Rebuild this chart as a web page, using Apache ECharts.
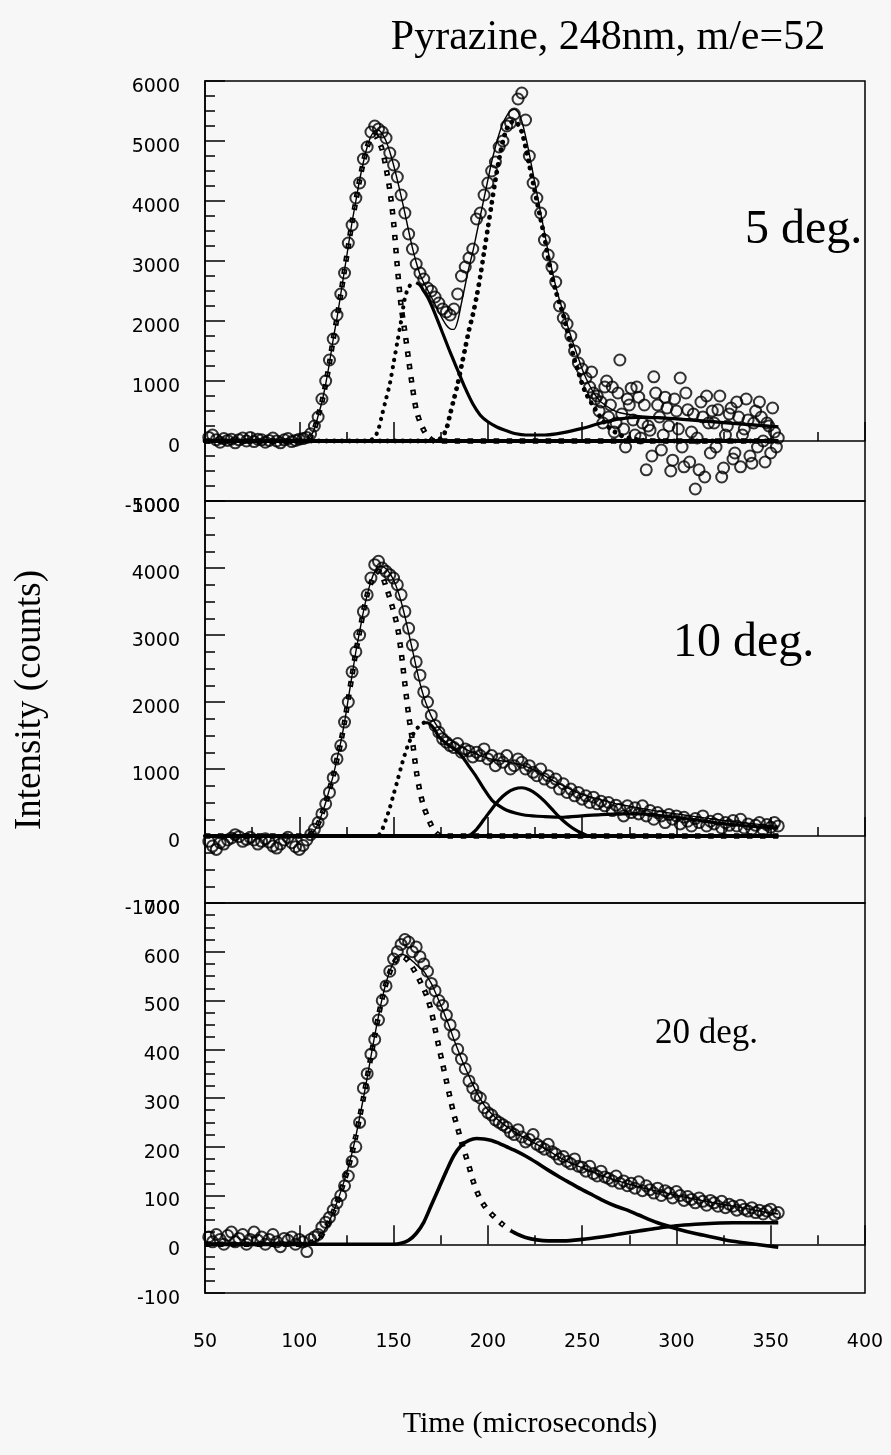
<!DOCTYPE html>
<html>
<head>
<meta charset="utf-8">
<script src="https://cdn.jsdelivr.net/npm/echarts@6/dist/echarts.min.js"></script>
<style>
html,body{margin:0;padding:0;background:#f7f7f7;}
#chart{width:891px;height:1455px;}
</style>
</head>
<body>
<div id="chart"></div>
<script>
// ---------- DATA ----------
const T = [52,54,56,58,60,62,64,66,68,70,72,74,76,78,80,82,84,86,88,90,92,94,96,98,100,102,104,106,
108,110,112,114,116,118,120,122,124,126,128,130,132,134,136,138,140,142,144,146,148,150,152,154,156,158,160,162,164,166,168,170,
172,174,176,178,180,182,184,186,188,190,192,194,196,198,200,202,204,206,208,210,212,214,216,218,220,222,224,226,228,230,
232,234,236,238,240,242,244,246,248,250,252,254,256,258,260,262,264,266,268,270,272,274,276,278,280,282,284,286,288,290,
292,294,296,298,300,302,304,306,308,310,312,314,316,318,320,322,324,326,328,330,332,334,336,338,340,342,344,346,348,350,352,354];

const p1Data = [60,100,20,-20,40,10,30,-30,20,50, 0,60,-10,30,20,-20,10,50,0,-30, 20,40,-10,10,30,40,60,120,
250,400,700,1000,1350,1700,2100,2450,2800,3300, 3600,4050,4300,4700,4900,5150,5250,5200,5150,5050,
4800,4600,4400,4100,3800,3450,3200,2950,2800,2700, 2550,2500,2400,2300,2200,2150,2100,2200,2450,2750,
2900,3050,3200,3700,3800,4100,4300,4500,4650,4900, 5000,5250,5300,5450,5700,5800,5350,4750,4300,4050,
3800,3350,3100,2900,2650,2250,2050,1950,1750,1500, 1300,1200,1050,900,800,750,
650,900,400,900,300,1350,200,700,880,100, 730,300,-480,180,1070,600,-150,730,250,-320,
500,1050,-430,520,150,-800,-480,400,750,-200, 300,520,-600,100,450,-300,650,-430,200,350,
-370,500,650,0,300,-200,150,50];
// extra noisy points of the 5 deg. tail (odd microseconds)
const p1TailExtra = [[255,1150],[257,700],[259,500],[261,300],[263,1000],[265,600],[267,150],[269,800],[271,450],[273,-100],
[275,600],[277,350],[279,900],[281,50],[283,600],[285,250],[287,-250],[289,800],[291,400],[293,100],
[295,550],[297,-500],[299,700],[301,200],[303,-100],[305,800],[307,-350],[309,450],[311,50],[313,650],
[315,-600],[317,300],[319,500],[321,-100],[323,750],[325,-450],[327,250],[329,550],[331,-200],[333,400],
[335,100],[337,700],[339,-250],[341,300],[343,-100],[345,400],[347,-350],[349,250],[351,550],[353,-100]];

const p2Data = [-80,-150,-200,-100,-120,-60,-30,20,-10,-80, -50,-20,-60,-120,-80,-40,-90,-150,-180,-120, -60,-20,-100,-160,-200,-140,-60,20,
100,200,330,480,650,870,1150,1350,1700,2000, 2450,2750,3000,3350,3600,3850,4050,4100,4000,3950,
3900,3850,3750,3600,3350,3100,2850,2600,2400,2150, 2000,1800,1650,1550,1450,1400,1350,1320,1380,1250,
1300,1270,1180,1250,1200,1300,1150,1200,1050,1150, 1100,1200,1000,1050,1150,1100,1000,1050,950,900,
1000,850,900,800,850,700,780,650,700,600, 650,550,600,500,580,480,
520,450,500,380,460,400,300,450,350,420, 330,450,300,380,250,350,300,200,320,250,
300,180,280,220,150,260,200,300,150,220, 180,250,120,200,160,230,150,250,120,180,
100,160,200,90,170,130,200,150];

const p3Data = [15,5,20,10,0,18,25,5,12,20, 0,10,25,8,15,0,10,20,5,-5, 12,8,15,0,10,5,-15,10,
15,20,35,45,55,70,85,100,120,140, 170,200,250,320,350,390,420,460,500,530,
560,585,600,615,625,620,600,610,590,575, 560,535,520,500,490,470,450,430,400,380,
360,335,320,305,300,280,270,265,255,250, 245,240,230,225,235,220,210,215,225,205,
200,195,205,190,185,175,180,170,165,175, 160,158,150,160,145,140,
150,138,135,130,140,125,130,120,125,115, 128,110,120,112,105,115,100,110,105,95,
108,100,90,98,92,85,95,88,80,90, 85,78,88,75,82,78,70,80,72,68,
75,65,70,62,68,72,60,65];

// Panel 1 fit curves [time, counts]
const p1Total = [[50,0],[102,0],[104,20],[106,80],[108,200],[110,420],[112,650],[114,950],[116,1300],[118,1700],[120,2050],[122,2450],[124,2850],[126,3250],[128,3650],[130,4000],[132,4350],[134,4650],[136,4900],[138,5080],[140,5170],[142,5180],[144,5120],[146,5000],[148,4820],[150,4600],[152,4350],[154,4080],[156,3800],[158,3500],[160,3220],[162,2980],[164,2780],[166,2640],[168,2520],[170,2400],[172,2280],[174,2150],[176,2030],[178,1930],[180,1870],[182,1860],[184,2000],[186,2300],[188,2600],[190,2900],[192,3150],[194,3450],[196,3750],[198,4050],[200,4350],[202,4650],[204,4900],[206,5120],[208,5300],[210,5420],[212,5500],[214,5530],[216,5480],[218,5330],[220,5080],[222,4780],[224,4450],[226,4130],[228,3800],[230,3480],[232,3150],[234,2850],[236,2580],[238,2350],[240,2150],[242,1950],[244,1750],[246,1560],[248,1380],[250,1200],[252,1050],[254,920],[256,810],[258,720],[260,650],[265,540],[270,470],[280,420],[290,400],[300,380],[310,355],[320,330],[330,305],[340,280],[350,255],[354,245]];
const p1Fast = [[50,0],[102,0],[104,20],[106,80],[108,200],[110,420],[112,650],[114,950],[116,1300],[118,1700],[120,2050],[122,2450],[124,2850],[126,3250],[128,3650],[130,4000],[132,4350],[134,4650],[136,4900],[138,5050],[140,5100],[142,5000],[144,4850],[146,4550],[148,4180],[150,3650],[152,2900],[154,2250],[156,1820],[158,1350],[160,900],[162,520],[164,320],[166,180],[168,80],[170,25],[172,0],[354,0]];
const p1MidRise = [[50,0],[136,0],[138,20],[140,60],[142,200],[144,450],[146,700],[148,950],[150,1300],[152,1650],[154,2000],[156,2380],[158,2560],[160,2630],[162,2640]];
const p1MidFall = [[162,2640],[164,2600],[166,2500],[168,2400],[170,2270],[172,2120],[176,1800],[180,1480],[184,1180],[188,880],[192,620],[196,430],[200,320],[205,230],[210,170],[215,120],[220,100],[230,100],[240,140],[250,210],[260,300],[270,370],[280,395],[290,390],[300,370],[310,345],[320,320],[330,295],[340,270],[350,245],[354,235]];
const p1Slow = [[50,0],[172,0],[174,20],[176,80],[178,200],[180,450],[182,700],[184,950],[186,1250],[188,1550],[190,1850],[192,2100],[194,2400],[196,2750],[198,3150],[200,3550],[202,3950],[204,4350],[206,4700],[208,5000],[210,5200],[212,5300],[214,5330],[216,5280],[218,5150],[220,4900],[222,4600],[224,4300],[226,4000],[228,3700],[230,3400],[232,3050],[234,2750],[236,2500],[238,2300],[240,2100],[242,1850],[244,1600],[246,1350],[248,1150],[250,950],[252,800],[254,680],[256,580],[258,480],[260,380],[262,300],[264,230],[266,180],[270,100],[275,50],[280,20],[290,0],[354,0]];

// Panel 2 fit curves
const p2Total = [[50,0],[104,0],[106,30],[108,80],[110,180],[112,330],[114,500],[116,700],[118,900],[120,1150],[122,1400],[124,1700],[126,2050],[128,2400],[130,2750],[132,3050],[134,3350],[136,3600],[138,3800],[140,3950],[142,4020],[144,4020],[146,3990],[148,3920],[150,3820],[152,3680],[154,3500],[156,3280],[158,3030],[160,2780],[162,2520],[164,2280],[166,2080],[168,1920],[170,1790],[172,1690],[174,1610],[178,1490],[182,1400],[186,1330],[190,1270],[195,1210],[200,1160],[205,1130],[210,1110],[215,1080],[220,1040],[225,980],[230,900],[235,820],[240,750],[245,680],[250,620],[260,540],[270,470],[280,420],[290,370],[300,330],[310,290],[320,250],[330,215],[340,185],[350,155],[354,145]];
const p2Fast = [[50,0],[104,0],[106,30],[108,80],[110,180],[112,330],[114,500],[116,700],[118,900],[120,1150],[122,1400],[124,1700],[126,2050],[128,2400],[130,2750],[132,3050],[134,3350],[136,3600],[138,3780],[140,3900],[142,3950],[144,3880],[146,3720],[148,3550],[150,3350],[152,3130],[154,2750],[156,2270],[158,1800],[160,1420],[162,980],[164,660],[166,440],[168,290],[170,160],[172,65],[174,15],[176,0],[354,0]];
const p2MidRise = [[50,0],[140,0],[142,10],[144,100],[146,250],[148,420],[150,620],[152,820],[154,1030],[156,1220],[158,1380],[160,1500],[162,1590],[164,1650],[166,1690]];
const p2MidFall = [[166,1690],[168,1690],[170,1650],[172,1580],[174,1480],[178,1380],[182,1300],[186,1200],[190,1040],[194,880],[198,700],[202,540],[206,450],[210,385],[215,340],[220,310],[230,290],[240,280],[250,300],[260,320],[270,330],[280,330],[290,310],[300,280],[310,240],[320,200],[330,170],[340,145],[350,125],[354,118]];
const p2Bump = [[50,0],[186,0],[190,10],[194,100],[198,250],[202,400],[206,540],[210,640],[214,700],[218,720],[222,690],[226,620],[230,520],[234,400],[238,280],[242,180],[246,100],[250,40],[254,0],[354,0]];

// Panel 3 fit curves
const p3Total = [[50,0],[104,0],[106,3],[108,6],[110,10],[112,20],[114,33],[116,48],[118,66],[120,86],[122,108],[124,132],[126,158],[128,188],[130,222],[132,260],[134,300],[136,342],[138,385],[140,428],[142,468],[144,505],[146,536],[148,560],[150,578],[152,590],[154,595],[156,593],[158,588],[160,581],[162,574],[164,566],[166,560],[168,548],[170,535],[172,518],[174,500],[176,482],[178,462],[180,442],[182,420],[184,400],[186,380],[188,362],[190,345],[192,328],[194,312],[196,298],[198,286],[200,276],[204,260],[208,247],[212,236],[216,226],[220,217],[224,209],[232,192],[242,170],[250,157],[259,143],[268,131],[277,121],[286,112],[295,105],[304,97],[312,91],[321,84],[330,78],[340,71],[350,64],[354,62]];
const p3Fast = [[50,0],[104,0],[106,3],[108,6],[110,10],[112,20],[114,33],[116,48],[118,66],[120,86],[122,108],[124,132],[126,158],[128,188],[130,222],[132,260],[134,300],[136,342],[138,385],[140,428],[142,468],[144,505],[146,535],[148,558],[150,576],[152,587],[154,591],[156,588],[158,580],[160,568],[162,555],[164,540],[166,524],[168,505],[170,478],[172,442],[174,405],[176,370],[178,335],[180,300],[182,266],[184,238],[186,210],[188,185],[190,160],[192,132],[194,110],[196,93],[198,80],[200,70],[204,54],[208,40],[212,28]];
const p3FastTail = [[212,28],[216,20],[220,14],[226,9],[232,7],[240,7],[250,10],[260,15],[270,21],[280,27],[290,33],[300,38],[310,41],[320,43],[330,44],[340,44],[354,44]];
const p3Slow = [[50,0],[150,0],[154,2],[158,8],[162,22],[166,45],[170,80],[174,115],[178,150],[182,182],[186,203],[190,213],[194,217],[198,216],[202,213],[206,207],[210,200],[214,193],[220,181],[226,167],[232,152],[238,138],[244,125],[250,112],[256,100],[262,88],[268,78],[274,70],[280,60],[290,44],[300,32],[310,22],[320,14],[330,6],[340,1],[350,-4],[354,-6]];

// Axis ticks / labels
const xRange = [50, 400], xStep = 50;
const yRanges = [[-1000, 6000, 1000], [-1000, 5000, 1000], [-100, 700, 100]];
const panelLabels = ['5 deg.', '10 deg.', '20 deg.'];
const titleText = 'Pyrazine, 248nm, m/e=52';
const xName = 'Time (microseconds)';
const yName = 'Intensity (counts)';

// ---------- LAYOUT / STYLE ----------
const BG = '#f7f7f7';
const SERIF = "'Liberation Serif', 'Times New Roman', serif";
const SANS = "'DejaVu Sans', sans-serif";
const grids = [
  {left: 205, top: 81, width: 660, height: 420},
  {left: 205, top: 501, width: 660, height: 402},
  {left: 205, top: 903, width: 660, height: 390}
];

function thin(g, d) {
  return {type:'line', xAxisIndex:g, yAxisIndex:g, data:d, symbol:'none', smooth:0.3, z:4,
    lineStyle:{color:'#000', width:1.4}, silent:true};
}
function thick(g, d, w) {
  return {type:'line', xAxisIndex:g, yAxisIndex:g, data:d, symbol:'none', smooth:0.3, z:4,
    lineStyle:{color:'#000', width:w || 3.2}, silent:true};
}
function baseOf(g, d) {
  return {type:'line', xAxisIndex:g, yAxisIndex:g, data:d.map(p => [p[0], p[1] === 0 ? 0 : null]),
    symbol:'none', z:5, lineStyle:{color:'#000', width:3.8}, silent:true};
}
function squares(g, d) {
  return [
    {type:'line', xAxisIndex:g, yAxisIndex:g, data:d, symbol:'none', smooth:0.3, z:2, silent:true,
      lineStyle:{color:'#000', width:5.5, type:[5.5, 7.5], cap:'butt'}},
    {type:'line', xAxisIndex:g, yAxisIndex:g, data:d, symbol:'none', smooth:0.3, z:2, silent:true,
      lineStyle:{color:BG, width:2, type:[2, 11], dashOffset:-1.75, cap:'butt'}}
  ];
}
function dots(g, d, w) {
  return {type:'line', xAxisIndex:g, yAxisIndex:g, data:d, symbol:'none', smooth:0.3, z:3, silent:true,
    lineStyle:{color:'#000', width:w || 4.8, type:[0.1, 7.5], cap:'round'}};
}
function circleStyle() {
  return {color:'rgba(0,0,0,0)', borderColor:'#000', borderWidth:2};
}
function scatter(g, vals) {
  const n = Math.min(T.length, vals.length);
  const d = [];
  for (let i = 0; i < n; i++) d.push([T[i], vals[i]]);
  return {type:'scatter', xAxisIndex:g, yAxisIndex:g, data:d, symbol:'circle', symbolSize:11, z:6, silent:true,
    itemStyle:circleStyle()};
}
function scatterPairs(g, pairs) {
  return {type:'scatter', xAxisIndex:g, yAxisIndex:g, data:pairs, symbol:'circle', symbolSize:11, z:6, silent:true,
    itemStyle:circleStyle()};
}

const tickStyle = {color:'#000', width:1.5};
const plain = v => String(v);
const xAxes = grids.map((g, i) => ({
  gridIndex:i, type:'value', min:xRange[0], max:xRange[1], interval:xStep,
  axisLine:{show:true, lineStyle:{color:'#000', width:1.5}},
  axisTick:{show:true, inside:true, length:19, lineStyle:tickStyle},
  minorTick:{show:true, splitNumber:2, length:9, lineStyle:tickStyle},
  splitLine:{show:false}, minorSplitLine:{show:false},
  axisLabel:{show:i === 2, color:'#000', fontFamily:SANS, fontSize:19, margin:40, formatter:plain,
    showMinLabel:true, showMaxLabel:true, hideOverlap:false}
}));
const yAxes = yRanges.map((r, i) => ({
  gridIndex:i, type:'value', min:r[0], max:r[1], interval:r[2],
  axisLine:{show:true, lineStyle:{color:'#000', width:1.5}},
  axisTick:{show:true, inside:true, length:20, lineStyle:tickStyle},
  minorTick:{show:true, splitNumber:4, length:10, lineStyle:tickStyle},
  splitLine:{show:false}, minorSplitLine:{show:false},
  axisLabel:{color:'#000', fontFamily:SANS, fontSize:19, margin:25, formatter:plain,
    verticalAlign:'top', lineHeight:12,
    showMinLabel:true, showMaxLabel:true, hideOverlap:false}
}));

const series = [].concat(
  // panel 1
  squares(0, p1Fast), dots(0, p1MidRise, 4.2), dots(0, p1Slow, 4.8),
  thick(0, p1MidFall), thin(0, p1Total),
  baseOf(0, p1Fast), baseOf(0, p1MidRise), baseOf(0, p1Slow),
  scatter(0, p1Data), scatterPairs(0, p1TailExtra),
  // panel 2
  squares(1, p2Fast), dots(1, p2MidRise, 4.2),
  thick(1, p2MidFall), thick(1, p2Bump), thin(1, p2Total),
  baseOf(1, p2Fast), baseOf(1, p2MidRise), baseOf(1, p2Bump),
  scatter(1, p2Data),
  // panel 3
  squares(2, p3Fast), thick(2, p3FastTail, 3.6), thick(2, p3Slow, 3.6), thin(2, p3Total),
  baseOf(2, p3Fast),
  scatter(2, p3Data)
);

const graphic = [
  {type:'text', x:608, y:38, style:{text:titleText, font:'42px ' + SERIF, fill:'#000', align:'center', verticalAlign:'middle'}},
  {type:'text', x:745, y:230, style:{text:panelLabels[0], font:'48px ' + SERIF, fill:'#000', align:'left', verticalAlign:'middle'}},
  {type:'text', x:673, y:643, style:{text:panelLabels[1], font:'48px ' + SERIF, fill:'#000', align:'left', verticalAlign:'middle'}},
  {type:'text', x:655, y:1034, style:{text:panelLabels[2], font:'35px ' + SERIF, fill:'#000', align:'left', verticalAlign:'middle'}},
  {type:'text', x:530, y:1424, style:{text:xName, font:'30px ' + SERIF, fill:'#000', align:'center', verticalAlign:'middle'}},
  {type:'text', x:30, y:700, rotation:Math.PI/2, style:{text:yName, font:'37px ' + SERIF, fill:'#000', align:'center', verticalAlign:'middle'}}
];

const chart = echarts.init(document.getElementById('chart'), null, {renderer:'canvas'});
chart.setOption({
  backgroundColor:BG,
  animation:false,
  grid:grids.map(g => Object.assign({show:true, borderColor:'#000', borderWidth:1.5,
    backgroundColor:'transparent', containLabel:false, outerBoundsMode:'none'}, g)),
  xAxis:xAxes,
  yAxis:yAxes,
  series:series,
  graphic:graphic
});
</script>
</body>
</html>
